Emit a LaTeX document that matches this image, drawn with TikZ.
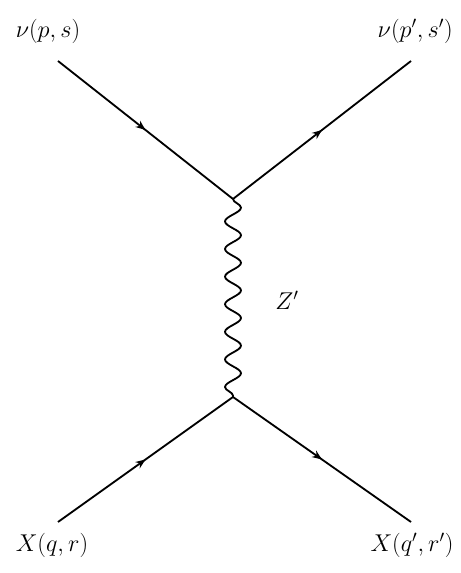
\documentclass[tikz,border=0pt]{standalone}
\usepackage{amsmath,amssymb}
\usepackage{tikz}
\usetikzlibrary{arrows.meta,decorations.markings,decorations.pathmorphing,positioning}

\begin{document}
\begin{tikzpicture}[
    fermion/.style={line width=1.3pt, postaction={decorate},
        decoration={markings, mark=at position 0.5 with {\arrow{Stealth[length=7pt,width=5.5pt]}}}},
    boson/.style={line width=1.3pt, decorate,
        decoration={snake, segment length=0.69cm, amplitude=0.2cm}},
    label/.style={font=\fontsize{18.5}{22}\selectfont, inner sep=0pt}
]
\useasboundingbox (0,0) rectangle (11.525,14.325);

% vertices and external legs
\coordinate (v1) at (5.825,9.35);
\coordinate (v2) at (5.825,4.4);
\coordinate (nuin) at (1.45,12.8);
\coordinate (nuout) at (10.275,12.8);
\coordinate (xin) at (1.45,1.275);
\coordinate (xout) at (10.275,1.275);

% labels
\node[label] (lnuin) at (1.2,13.54) {$\nu(p,s)$};
\node[label] (lnuout) at (10.38,13.54) {$\nu(p',s')$};
\node[label] (lxin) at (1.3,0.7) {$X(q,r)$};
\node[label] (lxout) at (10.3,0.7) {$X(q',r')$};
\node[label] (lz) at (7.175,6.825) {$Z'$};

\draw[fermion] (nuin) -- (v1);
\draw[fermion] (v1) -- (nuout);
\draw[fermion] (xin) -- (v2);
\draw[fermion] (v2) -- (xout);
\draw[boson] (v1) -- (v2);

\end{tikzpicture}
\end{document}
